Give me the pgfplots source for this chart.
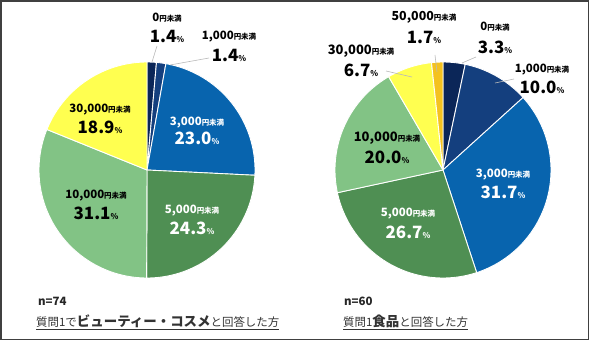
\documentclass[border=0pt]{standalone}
\usepackage{pgfplots}
\usepackage{pgfplotstable}
\pgfplotsset{compat=1.18}
\usepackage{fontspec}
\setmainfont{Noto Sans CJK JP}

\definecolor{cnavy}{HTML}{0B2658}
\definecolor{cblueA}{HTML}{143F7E}
\definecolor{cblue}{HTML}{0864AE}
\definecolor{cdgreen}{HTML}{4F8F53}
\definecolor{clgreen}{HTML}{82C385}
\definecolor{cyellow}{HTML}{FFFF50}
\definecolor{cgold}{HTML}{F4C21F}

\pgfplotstableread{
value color
1.4 cnavy
1.4 cblueA
23.0 cblue
24.3 cdgreen
31.1 clgreen
18.9 cyellow
}\leftdata

\pgfplotstableread{
value color
3.3 cnavy
10.0 cblueA
31.7 cblue
26.7 cdgreen
20.0 clgreen
6.7 cyellow
1.7 cgold
}\rightdata

% #1 table, #2 cx, #3 cy, #4 radius (axis units = px)
\newcommand{\drawpie}[4]{%
  \pgfplotstablegetrowsof{#1}%
  \pgfmathtruncatemacro{\nrows}{\pgfplotsretval-1}%
  \def\tot{0}%
  \pgfplotsforeachungrouped \i in {0,...,\nrows}{%
    \pgfplotstablegetelem{\i}{value}\of{#1}%
    \pgfmathsetmacro{\tot}{\tot+\pgfplotsretval}%
  }%
  \pgfmathsetmacro{\fac}{360/\tot}%
  \def\cum{0}%
  \pgfplotsforeachungrouped \i in {0,...,\nrows}{%
    \pgfplotstablegetelem{\i}{value}\of{#1}\let\val\pgfplotsretval
    \pgfplotstablegetelem{\i}{color}\of{#1}\let\col\pgfplotsretval
    \pgfmathsetmacro{\angA}{90-\fac*\cum}%
    \pgfmathsetmacro{\angB}{90-\fac*(\cum+\val)}%
    \edef\doplot{\noexpand\addplot[fill=\col, draw=white, line width=0.9pt, line join=round, domain=\angB:\angA, samples=80] ({#2+#4*cos(x)},{#3-#4*sin(x)}) -- (axis cs:#2,#3) -- cycle;}%
    \doplot
    \pgfmathsetmacro{\cum}{\cum+\val}%
  }%
}

% label: #1 x, #2 y of category line, #3 y of percent line, #4 amount, #5 percent, #6 colour, #7 digit size
\newcommand{\lab}[7]{%
  \node[text=#6, font=\bfseries, inner sep=0pt, anchor=base] at (axis cs:#1,#2+4) {\fontsize{#7}{#7}\selectfont #4\fontsize{7.5}{8}\selectfont 円未満};
  \node[text=#6, font=\bfseries, inner sep=0pt, anchor=base] at (axis cs:#1,#3+6) {\fontsize{17}{17}\selectfont #5\fontsize{8}{9}\selectfont\%};
}

\begin{document}
\begin{tikzpicture}
\path[use as bounding box] (0,0) rectangle (590bp,341bp);
\begin{axis}[at={(0,0)}, anchor=south west, scale only axis,
  width=590bp, height=341bp, xmin=0, xmax=590, ymin=0, ymax=341,
  y dir=reverse, hide axis, clip=false]

\drawpie{\leftdata}{147}{170}{108}
\drawpie{\rightdata}{443}{170}{108}

% leader lines
\draw[gray!55, line width=0.6bp] (axis cs:152,62) -- (axis cs:157,46);
\draw[gray!55, line width=0.6bp] (axis cs:170,65) -- (axis cs:209,58);
\draw[gray!55, line width=0.6bp] (axis cs:437,72) -- (axis cs:435,55);
\draw[gray!55, line width=0.6bp] (axis cs:462,63) -- (axis cs:476,57);
\draw[gray!55, line width=0.6bp] (axis cs:495,83) -- (axis cs:514,79);
\draw[gray!55, line width=0.6bp] (axis cs:412,77) -- (axis cs:386,71);

% left labels
\lab{167}{18}{36}{0}{1.4}{black}{11.5}
\lab{229}{35}{55}{1,000}{1.4}{black}{11.5}
\lab{197}{121}{138}{3,000}{23.0}{white}{11.5}
\lab{192}{209}{228}{5,000}{24.3}{white}{11.5}
\lab{96}{194}{213}{10,000}{31.1}{black}{11.5}
\lab{100}{108}{127}{30,000}{18.9}{black}{11.5}

% right labels
\lab{424}{17}{37}{50,000}{1.7}{black}{12.5}
\lab{495}{27}{47}{0}{3.3}{black}{11.5}
\lab{542}{68}{87}{1,000}{10.0}{black}{11.5}
\lab{503}{173}{192}{3,000}{31.7}{white}{11.5}
\lab{408}{212}{232}{5,000}{26.7}{white}{11.5}
\lab{387}{137}{157}{10,000}{20.0}{black}{13}
\lab{361}{50}{70}{30,000}{6.7}{black}{13}

% bottom texts
\node[anchor=west, inner sep=0pt, font=\bfseries\fontsize{11.5}{12}\selectfont, text=black!85] at (axis cs:38,301) {n=74};
\node[anchor=west, inner sep=0pt, font=\bfseries\fontsize{11.5}{12}\selectfont, text=black!85] at (axis cs:344,301) {n=60};
\node[anchor=west, inner sep=0pt, text=black!80] at (axis cs:36,322) {\underline{\fontsize{11.5}{12}\selectfont 質問1で{\bfseries\fontsize{13.5}{14}\selectfont ビューティー・コスメ}と回答した方}};
\node[anchor=west, inner sep=0pt, text=black!80] at (axis cs:343,322) {\underline{\fontsize{11.5}{12}\selectfont 質問1{\bfseries\fontsize{13.5}{14}\selectfont 食品}と回答した方}};

% frame
\draw[line width=1.6bp, black!75] (axis cs:0.8,0.8) rectangle (axis cs:588.6,339.6);
\end{axis}
\end{tikzpicture}
\end{document}
